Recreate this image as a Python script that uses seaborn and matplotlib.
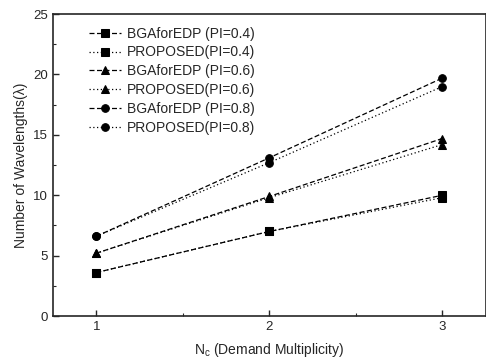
import matplotlib
matplotlib.use("Agg")
import matplotlib.pyplot as plt
import seaborn as sns
import pandas as pd
from matplotlib.ticker import MultipleLocator

# values
multiplicity = [1, 2, 3]
bga_04 = [3.6, 7.0, 10.0]
prop_04 = [3.6, 7.0, 9.8]
bga_06 = [5.2, 9.9, 14.7]
prop_06 = [5.2, 9.8, 14.2]
bga_08 = [6.6, 13.1, 19.7]
prop_08 = [6.6, 12.7, 19.0]

series = [
    ("BGAforEDP (PI=0.4)", bga_04, "s", (0, (4, 2))),
    ("PROPOSED(PI=0.4)", prop_04, "s", (0, (1, 2))),
    ("BGAforEDP (PI=0.6)", bga_06, "^", (0, (4, 2))),
    ("PROPOSED(PI=0.6)", prop_06, "^", (0, (1, 2))),
    ("BGAforEDP (PI=0.8)", bga_08, "o", (0, (4, 2))),
    ("PROPOSED(PI=0.8)", prop_08, "o", (0, (1, 2))),
]

sns.set_style("ticks")
plt.rcParams["font.family"] = ["Liberation Sans", "DejaVu Sans"]
plt.rcParams["mathtext.fontset"] = "custom"
plt.rcParams["mathtext.rm"] = "Liberation Sans"
plt.rcParams["mathtext.it"] = "Liberation Sans"

fig = plt.figure(figsize=(4.86, 3.62), dpi=100)
ax = fig.add_axes([0.109, 0.127, 0.89, 0.834])

for name, vals, mk, ls in series:
    df = pd.DataFrame({"x": multiplicity, "y": vals})
    sns.lineplot(data=df, x="x", y="y", ax=ax, color="black", marker=mk,
                 markersize=5.5, markeredgecolor="black", linewidth=0.9,
                 linestyle=ls, label=name)

ax.set_xlim(0.75, 3.25)
ax.set_ylim(0, 25)
ax.set_xticks([1, 2, 3])
ax.xaxis.set_minor_locator(MultipleLocator(0.5))
ax.yaxis.set_major_locator(MultipleLocator(5))
ax.yaxis.set_minor_locator(MultipleLocator(2.5))
ax.tick_params(direction="in", labelsize=9.5, length=4, width=1)
ax.tick_params(which="minor", direction="in", length=2, width=0.8)
for sp in ax.spines.values():
    sp.set_linewidth(1.2)

ax.set_xlabel(r"N$_{c}$ (Demand Multiplicity)", fontsize=10, labelpad=6)
ax.set_ylabel("Number of Wavelengths(λ)", fontsize=10)

ax.legend(loc="upper left", bbox_to_anchor=(0.055, 1.0), frameon=False,
          fontsize=10, handlelength=2.3, labelspacing=0.35, handletextpad=0.4)

fig.savefig("out.png", dpi=100)
